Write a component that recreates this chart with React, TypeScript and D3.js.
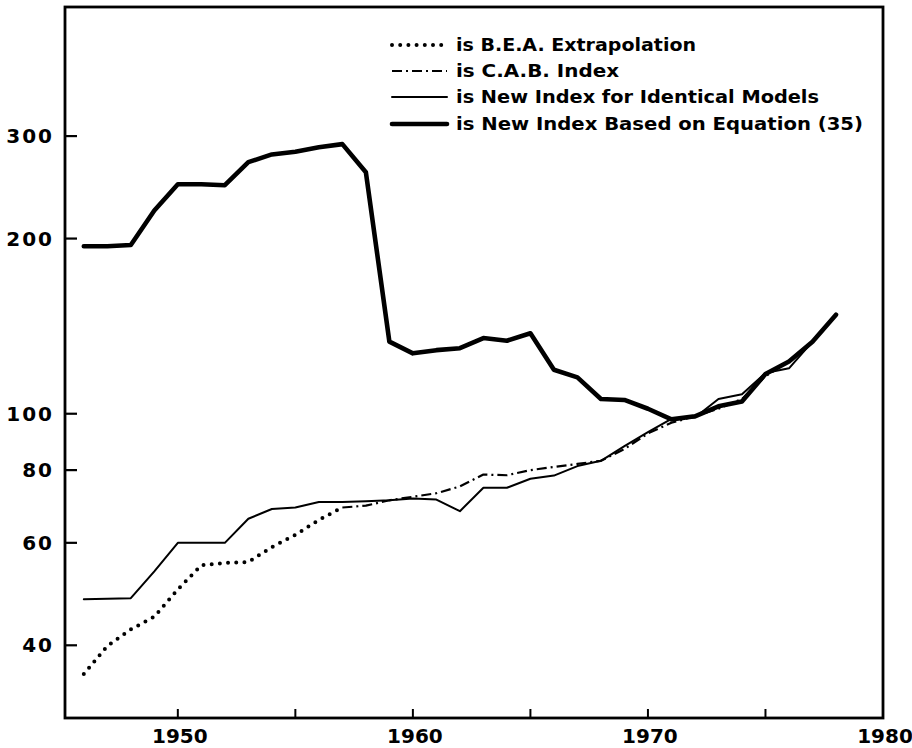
import React, { useEffect, useRef } from 'react';
import * as d3 from 'd3';

// B.E.A. extrapolation (dotted)
const beaYears = [1946, 1947, 1948, 1949, 1950, 1951, 1952, 1953, 1954, 1955, 1956, 1957];
const beaValues = [35.7, 39.9, 42.6, 44.8, 49.9, 54.9, 55.4, 55.6, 59, 61.9, 65.7, 69];

// C.A.B. index (dash-dot)
const cabYears = [
  1957, 1958, 1959, 1960, 1961, 1962, 1963, 1964, 1965, 1966, 1967,
  1968, 1969, 1970, 1971, 1972, 1973, 1974, 1975, 1976, 1977, 1978,
];
const cabValues = [
  69, 69.5, 71, 72, 73, 75, 78.6, 78.4, 80, 81, 82,
  83, 87, 92.5, 96.5, 99, 102, 106, 116, 123, 133, 148,
];

// years shared by the two "new index" series
const newYears = d3.range(1946, 1979);
const identicalValues = [
  48, 48.1, 48.2, 53.6, 60, 60, 60, 66, 68.6, 69, 70.5,
  70.5, 70.7, 71, 71.5, 71.2, 68, 74.6, 74.6, 77.3, 78.3, 81.3,
  83, 88, 93, 98, 98.5, 106, 108, 117.5, 119.7, 133, 148,
];
const equationValues = [
  194, 194, 195, 223.5, 248, 248, 247, 270.6, 279, 282, 287,
  290.6, 260, 133, 127, 128.6, 129.6, 134.9, 133.5, 137.5, 119, 115.5,
  106, 105.6, 102, 97.8, 99, 103, 105, 117, 123, 133, 148,
];

const yTicks = [40, 60, 80, 100, 200, 300];
const xTickLabels = [1950, 1960, 1970, 1980];
const xMinorTicks = [1950, 1955, 1960, 1965, 1970, 1975];

const legendLabels = [
  'is B.E.A. Extrapolation',
  'is C.A.B. Index',
  'is New Index for Identical Models',
  'is New Index Based on Equation (35)',
];
const legendWidths = [240, 163, 363, 407];

const App: React.FC = () => {
  const svgRef = useRef<SVGSVGElement>(null);
  const width = 912;
  const height = 748;

  useEffect(() => {
    if (!svgRef.current) return;
    const svg = d3.select(svgRef.current);
    svg.selectAll('*').remove();

    const left = 65, right = 883, top = 7, bottom = 718;
    const font = "'DejaVu Sans', sans-serif";

    const x = d3.scaleLinear().domain([1945.2, 1980]).range([left, right]);
    const y = d3.scaleLog().domain([30, 500]).range([bottom, top]);

    svg.append('rect')
      .attr('width', width)
      .attr('height', height)
      .attr('fill', '#fff');

    // frame
    svg.append('rect')
      .attr('x', left)
      .attr('y', top)
      .attr('width', right - left)
      .attr('height', bottom - top)
      .attr('fill', 'none')
      .attr('stroke', '#000')
      .attr('stroke-width', 2.8);

    // y ticks, pointing inward
    svg.append('g')
      .selectAll('line')
      .data(yTicks)
      .enter()
      .append('line')
      .attr('x1', left)
      .attr('x2', left + 12)
      .attr('y1', d => y(d))
      .attr('y2', d => y(d))
      .attr('stroke', '#000')
      .attr('stroke-width', 2.2);

    svg.append('g')
      .selectAll('text')
      .data(yTicks)
      .enter()
      .append('text')
      .attr('x', 54)
      .attr('y', d => y(d))
      .attr('dy', '0.36em')
      .attr('text-anchor', 'end')
      .attr('font-family', font)
      .attr('font-weight', 'bold')
      .attr('font-size', 20)
      .attr('letter-spacing', 2)
      .text(d => d);

    // x ticks, pointing inward
    svg.append('g')
      .selectAll('line')
      .data(xMinorTicks)
      .enter()
      .append('line')
      .attr('x1', d => x(d))
      .attr('x2', d => x(d))
      .attr('y1', bottom)
      .attr('y2', bottom - 9)
      .attr('stroke', '#000')
      .attr('stroke-width', 2);

    svg.append('g')
      .selectAll('text')
      .data(xTickLabels)
      .enter()
      .append('text')
      .attr('x', d => x(d) + 2)
      .attr('y', 743)
      .attr('text-anchor', 'middle')
      .attr('font-family', font)
      .attr('font-weight', 'bold')
      .attr('font-size', 20)
      .text(d => d);

    const line = d3.line<[number, number]>()
      .x(d => x(d[0]))
      .y(d => y(d[1]));

    const styles = [
      { width: 4, dash: '0 8.2', cap: 'round' },
      { width: 2.2, dash: '10 4 2 4', cap: 'butt' },
      { width: 2, dash: null, cap: 'round' },
      { width: 4.6, dash: null, cap: 'round' },
    ];

    const series: [number, number][][] = [
      beaYears.map((yr, i) => [yr, beaValues[i]]),
      cabYears.map((yr, i) => [yr, cabValues[i]]),
      newYears.map((yr, i) => [yr, identicalValues[i]]),
      newYears.map((yr, i) => [yr, equationValues[i]]),
    ];

    series.forEach((pts, i) => {
      const s = styles[i];
      svg.append('path')
        .attr('d', line(pts))
        .attr('fill', 'none')
        .attr('stroke', '#000')
        .attr('stroke-width', s.width)
        .attr('stroke-linecap', s.cap)
        .attr('stroke-linejoin', 'round')
        .attr('stroke-dasharray', s.dash);
    });

    // legend
    const legendRows = [45, 71, 97, 124];
    const legend = svg.append('g');
    legendLabels.forEach((label, i) => {
      const s = styles[i];
      const ly = legendRows[i];
      legend.append('line')
        .attr('x1', 392)
        .attr('x2', 447)
        .attr('y1', ly)
        .attr('y2', ly)
        .attr('stroke', '#000')
        .attr('stroke-width', s.width)
        .attr('stroke-linecap', s.cap)
        .attr('stroke-dasharray', s.dash);
      legend.append('text')
        .attr('x', 456)
        .attr('y', ly)
        .attr('dy', '0.36em')
        .attr('font-family', font)
        .attr('font-weight', 'bold')
        .attr('font-size', 18)
        .attr('textLength', legendWidths[i])
        .attr('lengthAdjust', 'spacingAndGlyphs')
        .text(label);
    });
  }, []);

  return (
    <div style={{ position: 'absolute', left: 0, top: 0 }}>
      <svg ref={svgRef} width={width} height={height} style={{ display: 'block' }}></svg>
    </div>
  );
};

export default App;
